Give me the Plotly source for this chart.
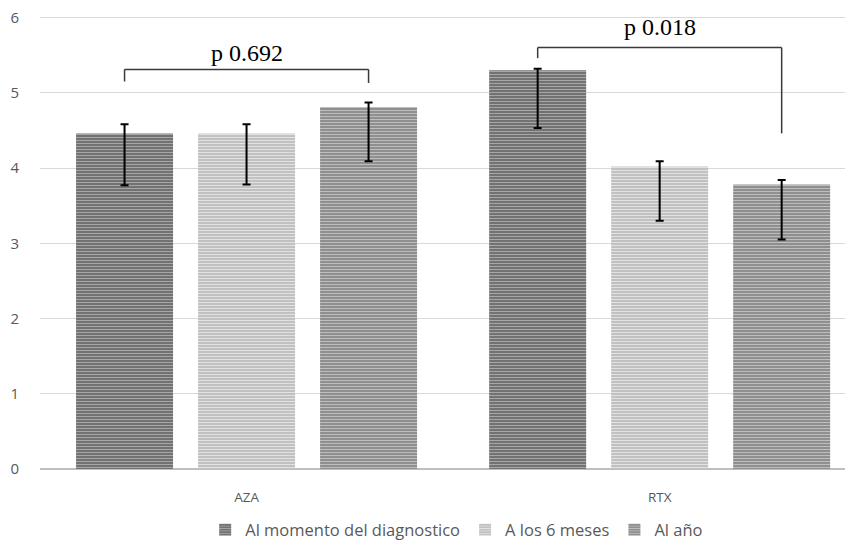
import plotly.graph_objects as go

categories = ["AZA", "RTX"]
series_names = ["Al momento del diagnostico", "A los 6 meses", "Al año"]
values_diag = [4.46, 5.30]
values_6m = [4.46, 4.02]
values_ano = [4.81, 3.78]
upper_diag = [4.58, 5.32]
upper_6m = [4.58, 4.09]
upper_ano = [4.87, 3.84]
lower_diag = [3.77, 4.53]
lower_6m = [3.78, 3.30]
lower_ano = [4.09, 3.05]
y_ticks = [0, 1, 2, 3, 4, 5, 6]

p_labels = ["p 0.692", "p 0.018"]
bracket_top = [5.31, 5.60]
bracket_left_end = [5.15, 5.46]
bracket_right_end = [5.13, 4.46]
label_y = [5.53, 5.87]

bg_colors = ["#6c6c6c", "#bebebe", "#8a8a8a"]
fg_colors = ["#a6a6a6", "#e2e2e2", "#bdbdbd"]

BARGAP = 0.114
slot = (1 - BARGAP) / 3

fig = go.Figure()
series = [
    (values_diag, upper_diag, lower_diag),
    (values_6m, upper_6m, lower_6m),
    (values_ano, upper_ano, lower_ano),
]
for i, (vals, up, lo) in enumerate(series):
    fig.add_trace(go.Bar(
        name=series_names[i],
        x=categories,
        y=vals,
        marker=dict(
            color=bg_colors[i],
            line=dict(width=0),
            pattern=dict(shape="-", bgcolor=bg_colors[i], fgcolor=fg_colors[i],
                         size=3, solidity=0.4, fillmode="replace"),
        ),
        error_y=dict(type="data", symmetric=False,
                     array=[u - v for u, v in zip(up, vals)],
                     arrayminus=[v - l for v, l in zip(vals, lo)],
                     color="#000000", thickness=2, width=4),
    ))

shapes = []
annotations = []
for k in range(len(categories)):
    xl = k - slot
    xr = k + slot
    line = dict(color="#3a3a3a", width=1.5)
    shapes.append(dict(type="line", xref="x", yref="y", x0=xl, x1=xr,
                       y0=bracket_top[k], y1=bracket_top[k], line=line))
    shapes.append(dict(type="line", xref="x", yref="y", x0=xl, x1=xl,
                       y0=bracket_top[k], y1=bracket_left_end[k], line=line))
    shapes.append(dict(type="line", xref="x", yref="y", x0=xr, x1=xr,
                       y0=bracket_top[k], y1=bracket_right_end[k], line=line))
    annotations.append(dict(x=k, y=label_y[k], xref="x", yref="y",
                            text=p_labels[k], showarrow=False,
                            font=dict(family="Liberation Serif", size=24, color="#000000")))

fig.update_layout(
    width=845, height=534,
    margin=dict(l=32, r=0, t=8, b=73, autoexpand=False),
    paper_bgcolor="white", plot_bgcolor="white",
    barmode="group", bargap=BARGAP, bargroupgap=0.205,
    font=dict(family="Open Sans", color="#595959"),
    shapes=shapes, annotations=annotations,
    legend=dict(orientation="h", xref="container", yref="container",
                x=0.531, xanchor="center", y=0.0225, yanchor="middle",
                font=dict(size=16.5, color="#595959"), itemwidth=30),
    showlegend=True,
)
fig.update_xaxes(range=[-0.5, 1.468], showgrid=False, showline=False, automargin=False,
                 ticks="", tickfont=dict(size=13.5, color="#595959"),
                 ticklabelstandoff=18)
fig.update_yaxes(range=[0, 6.02], tickmode="array", tickvals=y_ticks,
                 ticklabeloverflow="allow",
                 showgrid=True, gridcolor="#d9d9d9", automargin=False,
                 gridwidth=1, zeroline=True, zerolinecolor="#bfbfbf", zerolinewidth=2,
                 showline=False, ticks="", tickfont=dict(size=15, color="#595959"),
                 ticklabelstandoff=20)

fig.write_html("out.html")
